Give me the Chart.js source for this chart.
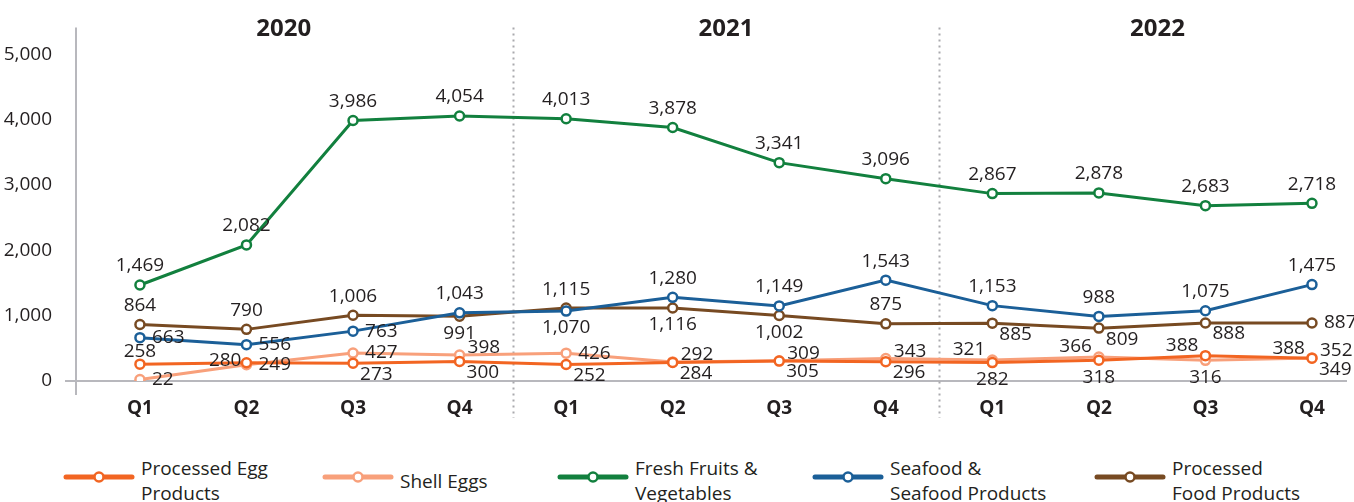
<!DOCTYPE html>
<html>
<head>
<meta charset="utf-8">
<title>Quarterly imports</title>
<script src="https://cdn.jsdelivr.net/npm/chart.js@4/dist/chart.umd.min.js"></script>
<style>
    body { margin: 0; background: #fff; font-family: "Open Sans", sans-serif; color: #231f20; }
    #wrap { position: relative; width: 1354px; height: 502px; overflow: hidden; }
    #chart-box { position: absolute; left: 0; top: 0; width: 1354px; height: 440px; }
    .lg-mark { position: absolute; }
    .lg-text { position: absolute; font-size: 19px; line-height: 25px; white-space: nowrap; }
</style>
</head>
<body>
<div id="wrap">
    <div id="chart-box"><canvas id="chart"></canvas></div>
    <div id="legend"></div>
</div>
<script>
// categories
const quarters = ['Q1', 'Q2', 'Q3', 'Q4', 'Q1', 'Q2', 'Q3', 'Q4', 'Q1', 'Q2', 'Q3', 'Q4'];
const years = ['2020', '2021', '2022'];
const yTicks = [0, 1000, 2000, 3000, 4000, 5000];

// series values
const processedEgg = [258, 280, 273, 300, 252, 284, 305, 296, 282, 318, 388, 349];
const shellEggs = [22, 249, 427, 398, 426, 292, 309, 343, 321, 366, 316, 352];
const freshFruits = [1469, 2082, 3986, 4054, 4013, 3878, 3341, 3096, 2867, 2878, 2683, 2718];
const seafood = [663, 556, 763, 1043, 1070, 1280, 1149, 1543, 1153, 988, 1075, 1475];
const processedFood = [864, 790, 1006, 991, 1115, 1116, 1002, 875, 885, 809, 888, 887];

// where each value label sits around its point
const PLACE = {
    a:  { align: 'center', dx: 0, dy: -19 },
    at: { align: 'center', dx: 0, dy: -13 },
    b:  { align: 'center', dx: 0, dy: 17 },
    r:  { align: 'left', dx: 12, dy: 0 },
    ru: { align: 'left', dx: 8, dy: -7 },
    rd: { align: 'left', dx: 7, dy: 11 },
    l:  { align: 'right', dx: -5, dy: -2 },
    al: { align: 'right', dx: -7, dy: -10 }
};

const series = [
    { name: ['Processed Egg', 'Products'], data: processedEgg, color: '#f26522',
      pos: ['at', 'l', 'rd', 'rd', 'rd', 'rd', 'rd', 'rd', 'b', 'b', 'al', 'rd'] },
    { name: ['Shell Eggs'], data: shellEggs, color: '#f8a07b',
      pos: ['r', 'r', 'r', 'ru', 'r', 'ru', 'ru', 'ru', 'al', 'al', 'b', 'ru'] },
    { name: ['Fresh Fruits &', 'Vegetables'], data: freshFruits, color: '#12803e',
      pos: ['a', 'a', 'a', 'a', 'a', 'a', 'a', 'a', 'a', 'a', 'a', 'a'] },
    { name: ['Seafood &', 'Seafood Products'], data: seafood, color: '#1b5f98',
      pos: ['r', 'r', 'r', 'a', 'b', 'a', 'a', 'a', 'a', 'a', 'a', 'a'] },
    { name: ['Processed', 'Food Products'], data: processedFood, color: '#774a22',
      pos: ['a', 'a', 'a', 'b', 'a', 'b', 'b', 'a', 'rd', 'rd', 'rd', 'r'] }
];

// stray label printed next to the last Processed Egg point in the original
const extraLabels = [{ series: 0, index: 11, text: '388', pos: 'al' }];

const yearCenters = [1.35, 5.5, 9.55];
const yearBreaks = [3.5, 7.5];

const textColor = '#231f20';
const axisColor = '#b8b8bd';
const fontFamily = '"Open Sans", sans-serif';

const fmt = v => v.toLocaleString('en-US');

const decorPlugin = {
    id: 'decor',
    beforeDatasetsDraw(chart) {
        const { ctx, chartArea, scales } = chart;
        const x = scales.x, y = scales.y;
        ctx.save();
        // axis lines
        ctx.strokeStyle = axisColor;
        ctx.lineWidth = 2;
        const y0 = y.getPixelForValue(0);
        ctx.beginPath();
        ctx.moveTo(65, y0);
        ctx.lineTo(1347, y0);
        ctx.moveTo(chartArea.left, chartArea.top);
        ctx.lineTo(chartArea.left, y0 + 14);
        ctx.stroke();
        // dotted year separators
        ctx.strokeStyle = '#a9a9ad';
        ctx.setLineDash([2, 4]);
        yearBreaks.forEach(b => {
            const px = Math.round(x.getPixelForValue(b)) + 0.5;
            ctx.beginPath();
            ctx.moveTo(px, chartArea.top);
            ctx.lineTo(px, 418);
            ctx.stroke();
        });
        ctx.setLineDash([]);
        // year titles
        ctx.fillStyle = textColor;
        ctx.font = 'bold 24px ' + fontFamily;
        ctx.textAlign = 'center';
        ctx.textBaseline = 'middle';
        years.forEach((yr, i) => {
            ctx.fillText(yr, x.getPixelForValue(yearCenters[i]), 29);
        });
        ctx.restore();
    },
    afterDatasetsDraw(chart) {
        const ctx = chart.ctx;
        ctx.save();
        ctx.font = '19px ' + fontFamily;
        ctx.fillStyle = textColor;
        ctx.textBaseline = 'middle';
        const put = (pt, text, code) => {
            const p = PLACE[code];
            ctx.textAlign = p.align;
            ctx.fillText(text, pt.x + p.dx, pt.y + p.dy);
        };
        series.forEach((s, i) => {
            const meta = chart.getDatasetMeta(i);
            meta.data.forEach((pt, j) => put(pt, fmt(s.data[j]), s.pos[j]));
        });
        extraLabels.forEach(e => {
            put(chart.getDatasetMeta(e.series).data[e.index], e.text, e.pos);
        });
        ctx.restore();
    }
};

const ctx = document.getElementById('chart').getContext('2d');
new Chart(ctx, {
    type: 'line',
    data: {
        datasets: series.map(s => ({
            label: s.name.join(' '),
            data: s.data.map((v, i) => ({ x: i, y: v })),
            borderColor: s.color,
            backgroundColor: '#ffffff',
            pointBackgroundColor: '#ffffff',
            pointBorderColor: s.color,
            pointBorderWidth: 2.5,
            pointRadius: 4.5,
            borderWidth: 3,
            tension: 0
        }))
    },
    options: {
        responsive: true,
        maintainAspectRatio: false,
        animation: false,
        layout: { padding: { top: 25, right: 9, bottom: 19, left: 0 } },
        plugins: { legend: { display: false }, tooltip: { enabled: false } },
        scales: {
            x: {
                type: 'linear',
                min: -0.6,
                max: 11.31,
                afterBuildTicks: sc => { sc.ticks = quarters.map((q, i) => ({ value: i })); },
                afterFit: sc => { sc.height = 40; },
                ticks: {
                    autoSkip: false,
                    maxRotation: 0,
                    padding: 8,
                    color: textColor,
                    font: { family: fontFamily, size: 19, weight: 'bold' },
                    callback: (v) => quarters[v]
                },
                grid: { display: false },
                border: { display: false }
            },
            y: {
                min: 0,
                max: 5410,
                afterBuildTicks: sc => { sc.ticks = yTicks.map(v => ({ value: v })); },
                afterFit: sc => { sc.width = 76; },
                ticks: {
                    padding: 16,
                    color: textColor,
                    font: { family: fontFamily, size: 19 },
                    callback: v => fmt(v)
                },
                grid: { display: false },
                border: { display: false }
            }
        }
    },
    plugins: [decorPlugin]
});

// legend
const legendX = [66, 325, 560, 815, 1097];
const legend = document.getElementById('legend');
series.forEach((s, i) => {
    const left = legendX[i];
    const svg = `<svg class="lg-mark" style="left:${left - 3}px;top:469px" width="72" height="16">
        <line x1="3" y1="8" x2="69" y2="8" stroke="${s.color}" stroke-width="5" stroke-linecap="round"/>
        <circle cx="36" cy="8" r="4.5" fill="#fff" stroke="${s.color}" stroke-width="2.5"/></svg>`;
    const top = s.name.length > 1 ? 456 : 469;
    const txt = `<div class="lg-text" style="left:${left + 75}px;top:${top}px">${s.name.join('<br>')}</div>`;
    legend.insertAdjacentHTML('beforeend', svg + txt);
});
</script>
</body>
</html>
